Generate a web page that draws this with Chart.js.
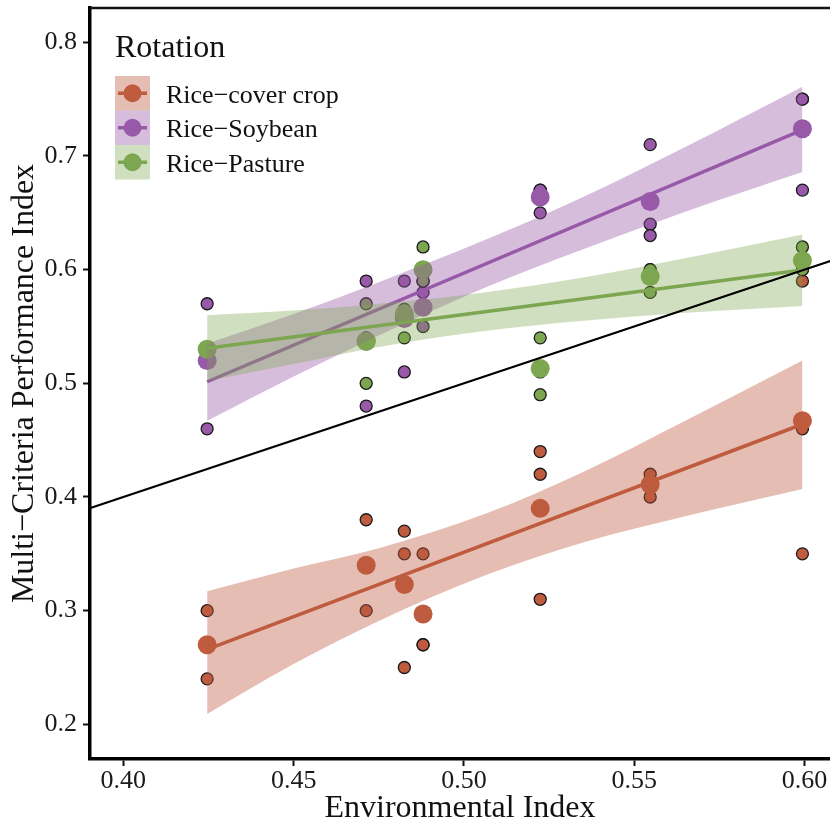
<!DOCTYPE html>
<html lang="en">
<head>
  <meta charset="UTF-8">
  <title>Multi-Criteria Performance vs Environmental Index</title>
  <script src="https://cdn.jsdelivr.net/npm/chart.js"></script>
  <style>
    body {
      margin: 0;
      background: #fff;
    }
    #wrap {
      width: 830px;
      height: 825px;
      position: relative;
    }
  </style>
</head>
<body>
  <div id="wrap"><canvas id="mcpChart"></canvas></div>
  <script>
    // sites (environmental index) and observed values, 3 per site
    const envIndex = [0.4246, 0.4713, 0.4825, 0.4880, 0.5224, 0.5547, 0.5994];

    const coverPts = [[0.30, 0.27, 0.24], [0.38, 0.34, 0.30], [0.37, 0.35, 0.25], [0.35, 0.27, 0.27],
                      [0.44, 0.42, 0.31], [0.42, 0.41, 0.40], [0.59, 0.46, 0.35]];
    const soyPts   = [[0.57, 0.53, 0.46], [0.59, 0.54, 0.48], [0.59, 0.56, 0.51], [0.59, 0.58, 0.55],
                      [0.67, 0.67, 0.65], [0.71, 0.64, 0.63], [0.75, 0.75, 0.67]];
    const pastPts  = [[0.53, 0.53, 0.53], [0.57, 0.54, 0.50], [0.565, 0.565, 0.54], [0.62, 0.59, 0.59],
                      [0.54, 0.51, 0.49], [0.60, 0.60, 0.58], [0.62, 0.60, 0.60]];

    // site means (big dots)
    const coverMean = [0.270, 0.340, 0.323, 0.297, 0.390, 0.411, 0.467];
    const soyMean   = [0.520, 0.537, 0.557, 0.567, 0.664, 0.660, 0.724];
    const pastMean  = [0.530, 0.537, 0.561, 0.600, 0.513, 0.594, 0.608];

    // fitted lines (ends)
    const fitX      = [0.4246, 0.5994];
    const coverFit  = [0.266, 0.464];
    const soyFit    = [0.5014, 0.7229];
    const pastFit   = [0.5308, 0.5997];

    // confidence bands
    const bandX      = [0.4246, 0.45, 0.475, 0.5061, 0.535, 0.565, 0.5994];
    const coverUpper = [0.317, 0.337, 0.355, 0.385, 0.422, 0.467, 0.520];
    const coverLower = [0.209, 0.253, 0.291, 0.331, 0.360, 0.383, 0.407];
    const soyUpper   = [0.535, 0.561, 0.589, 0.626, 0.664, 0.708, 0.761];
    const soyLower   = [0.467, 0.506, 0.542, 0.584, 0.618, 0.651, 0.686];
    const pastUpper  = [0.560, 0.564, 0.570, 0.580, 0.593, 0.610, 0.631];
    const pastLower  = [0.502, 0.517, 0.532, 0.546, 0.555, 0.562, 0.568];

    // 1:1 line
    const refLine = [0.38, 0.62];

    const rotations = ['Rice\u2212cover crop', 'Rice\u2212Soybean', 'Rice\u2212Pasture'];
    const xTicks = [0.40, 0.45, 0.50, 0.55, 0.60];
    const xTickLabels = ['0.40', '0.45', '0.50', '0.55', '0.60'];
    const yTicks = [0.2, 0.3, 0.4, 0.5, 0.6, 0.7, 0.8];
    const yTickLabels = ['0.2', '0.3', '0.4', '0.5', '0.6', '0.7', '0.8'];

    const colors = ['rgb(191,91,62)', 'rgb(152,90,168)', 'rgb(125,166,80)'];
    const bands  = ['rgba(191,91,62,0.4)', 'rgba(152,90,168,0.4)', 'rgba(125,166,80,0.36)'];

    const pts = (arr) => arr.flatMap((vals, i) => vals.map(v => ({x: envIndex[i], y: v})));
    const xy = (xs, ys) => xs.map((x, i) => ({x: x, y: ys[i]}));

    function smallPts(arr, c, order) {
      return {type: 'scatter', data: pts(arr), backgroundColor: c, borderColor: '#1a1a1a',
              borderWidth: 1.3, pointRadius: 6, order: order};
    }
    function bigPts(arr, c, order) {
      return {type: 'scatter', data: xy(envIndex, arr), backgroundColor: c, borderWidth: 0,
              pointRadius: 9.5, order: order};
    }
    function band(up, lo, c, order) {
      return [
        {type: 'line', data: xy(bandX, up), borderWidth: 0, pointRadius: 0, fill: '+1',
         backgroundColor: c, cubicInterpolationMode: 'monotone', order: order},
        {type: 'line', data: xy(bandX, lo), borderWidth: 0, pointRadius: 0, fill: false,
         cubicInterpolationMode: 'monotone', order: order}
      ];
    }
    function fit(ys, c, order) {
      return {type: 'line', data: xy(fitX, ys), borderColor: c, borderWidth: 3.5,
              pointRadius: 0, fill: false, order: order};
    }

    const legendPlugin = {
      id: 'rotationLegend',
      afterDraw(chart) {
        const ctx = chart.ctx;
        const a = chart.chartArea;
        ctx.save();
        // top border
        ctx.strokeStyle = '#111';
        ctx.lineWidth = 2.5;
        ctx.beginPath();
        ctx.moveTo(a.left, a.top);
        ctx.lineTo(a.right, a.top);
        ctx.stroke();

        ctx.fillStyle = '#111';
        ctx.font = '32px "Liberation Serif"';
        ctx.fillText('Rotation', 115, 57);
        rotations.forEach((name, i) => {
          const top = 76 + i * 34.5;
          const cy = top + 17.25;
          ctx.fillStyle = bands[i];
          ctx.fillRect(115, top, 35, 34.5);
          ctx.strokeStyle = colors[i];
          ctx.lineWidth = 3.5;
          ctx.beginPath();
          ctx.moveTo(118, cy);
          ctx.lineTo(147, cy);
          ctx.stroke();
          ctx.fillStyle = colors[i];
          ctx.beginPath();
          ctx.arc(132.5, cy, 9, 0, Math.PI * 2);
          ctx.fill();
          ctx.fillStyle = '#111';
          ctx.font = '26px "Liberation Serif"';
          ctx.fillText(name, 166, cy + 9.5);
        });
        ctx.restore();
      }
    };

    Chart.defaults.font.family = '"Liberation Serif", "Times New Roman", serif';

    new Chart(document.getElementById('mcpChart'), {
      type: 'scatter',
      data: {
        datasets: [
          {type: 'line', data: xy(refLine, refLine), borderColor: '#000', borderWidth: 2,
           pointRadius: 0, fill: false, order: 1},
          ...band(pastUpper, pastLower, bands[2], 3),
          fit(pastFit, colors[2], 2),
          ...band(soyUpper, soyLower, bands[1], 5),
          fit(soyFit, colors[1], 4),
          ...band(coverUpper, coverLower, bands[0], 7),
          fit(coverFit, colors[0], 6),
          bigPts(pastMean, colors[2], 10),
          smallPts(pastPts, colors[2], 11),
          bigPts(soyMean, colors[1], 12),
          smallPts(soyPts, colors[1], 13),
          bigPts(coverMean, colors[0], 14),
          smallPts(coverPts, colors[0], 15)
        ]
      },
      options: {
        responsive: true,
        maintainAspectRatio: false,
        animation: false,
        layout: {autoPadding: false, padding: {top: 8, right: 0, left: 0, bottom: 0}},
        plugins: {legend: {display: false}, tooltip: {enabled: false}},
        scales: {
          x: {
            type: 'linear',
            min: 0.3902,
            max: 0.6075,
            afterBuildTicks: sc => { sc.ticks = xTicks.map(v => ({value: v})); },
            afterFit: sc => { sc.height = 66; sc.paddingLeft = 0; sc.paddingRight = 0; },
            ticks: {
              callback: (v, i) => xTickLabels[i],
              font: {size: 26},
              color: '#1a1a1a',
              padding: 0,
              maxRotation: 0
            },
            grid: {drawOnChartArea: false, tickLength: 7, tickWidth: 2, tickColor: '#111'},
            border: {display: true, width: 3.5, color: '#000'},
            title: {display: true, text: 'Environmental Index', font: {size: 32, lineHeight: 1.05},
                    color: '#111', padding: {top: 0, bottom: 0}}
          },
          y: {
            min: 0.1695,
            max: 0.8302,
            afterBuildTicks: sc => { sc.ticks = yTicks.map(v => ({value: v})); },
            afterFit: sc => { sc.width = 90; sc.paddingTop = 0; sc.paddingBottom = 0; },
            ticks: {
              callback: (v, i) => yTickLabels[i],
              font: {size: 26},
              color: '#1a1a1a',
              padding: 6
            },
            grid: {drawOnChartArea: false, tickLength: 7, tickWidth: 2, tickColor: '#111'},
            border: {display: true, width: 3.5, color: '#000'},
            title: {display: true, text: 'Multi\u2212Criteria Performance Index', font: {size: 32, lineHeight: 1.05},
                    color: '#111', padding: {top: 8, bottom: 0}}
          }
        }
      },
      plugins: [legendPlugin]
    });
  </script>
</body>
</html>
